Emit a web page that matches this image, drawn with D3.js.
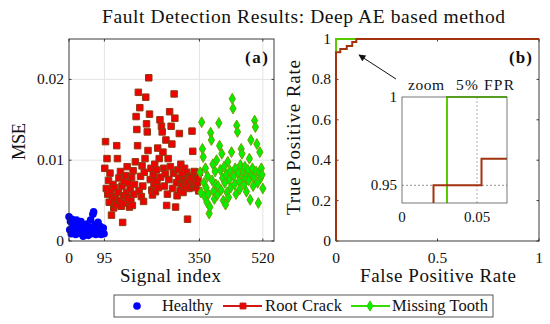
<!DOCTYPE html>
<html>
<head>
<meta charset="utf-8">
<script src="https://cdn.jsdelivr.net/npm/d3@7"></script>
<style>
  body { margin: 0; background: #fff; }
  text { font-family: "Liberation Serif", "DejaVu Serif", serif; fill: #111; }
</style>
</head>
<body>
<div id="chart"></div>
<script>
// ---- data ----
const healthyStart = 0, rootStart = 96, missingStart = 352, idxStep = 2

const healthyMse = [
  0.0030, 0.0014, 0.0024, 0.0009, 0.0027, 0.0017, 0.0011, 0.0021,
  0.0013, 0.0008, 0.0026, 0.0019, 0.0010, 0.0015, 0.0022, 0.0012,
  0.0024, 0.0009, 0.0016, 0.0006, 0.0019, 0.0013, 0.0010, 0.0015,
  0.0021, 0.0011, 0.0007, 0.0017, 0.0013, 0.0026, 0.0009, 0.0014,
  0.0033, 0.0036, 0.0012, 0.0020, 0.0008, 0.0016, 0.0011, 0.0023,
  0.0010, 0.0015, 0.0018, 0.0008, 0.0013, 0.0011, 0.0016, 0.0009]

const rootMse = [
  0.0090, 0.0123, 0.0065, 0.0102, 0.0058, 0.0075, 0.0048, 0.0084,
  0.0062, 0.0032, 0.0055, 0.0070, 0.0041, 0.0066, 0.0052, 0.0045,
  0.0118, 0.0102, 0.0060, 0.0078, 0.0050, 0.0086, 0.0043, 0.0068,
  0.0023, 0.0056, 0.0074, 0.0047, 0.0081, 0.0060, 0.0092, 0.0053,
  0.0072, 0.0042, 0.0064, 0.0050, 0.0079, 0.0044, 0.0087, 0.0058,
  0.0070, 0.0098, 0.0154, 0.0138, 0.0118, 0.0184, 0.0062, 0.0165,
  0.0080, 0.0055, 0.0093, 0.0068, 0.0049, 0.0085, 0.0102, 0.0178,
  0.0145, 0.0135, 0.0112, 0.0202, 0.0157, 0.0076, 0.0090, 0.0063,
  0.0057, 0.0082, 0.0070, 0.0095, 0.0061, 0.0088, 0.0074, 0.0115,
  0.0066, 0.0102, 0.0150, 0.0079, 0.0142, 0.0135, 0.0110, 0.0090,
  0.0068, 0.0083, 0.0125, 0.0044, 0.0058, 0.0102, 0.0076, 0.0160,
  0.0092, 0.0142, 0.0120, 0.0065, 0.0084, 0.0182, 0.0152, 0.0042,
  0.0072, 0.0056, 0.0088, 0.0078, 0.0133, 0.0062, 0.0095, 0.0070,
  0.0083, 0.0060, 0.0076, 0.0090, 0.0067, 0.0072, 0.0085, 0.0027,
  0.0074, 0.0065, 0.0080, 0.0068, 0.0078, 0.0136, 0.0111, 0.0070,
  0.0086, 0.0075, 0.0066, 0.0081, 0.0072, 0.0078, 0.0062, 0.0085]

const missingMse = [
  0.0085, 0.0060, 0.0147, 0.0114, 0.0104, 0.0072, 0.0055, 0.0090,
  0.0066, 0.0048, 0.0080, 0.0058, 0.0034, 0.0042, 0.0134, 0.0125,
  0.0075, 0.0095, 0.0062, 0.0052, 0.0086, 0.0070, 0.0100, 0.0057,
  0.0068, 0.0146, 0.0118, 0.0088, 0.0063, 0.0108, 0.0078, 0.0050,
  0.0092, 0.0072, 0.0045, 0.0082, 0.0060, 0.0098, 0.0054, 0.0076,
  0.0087, 0.0066, 0.0110, 0.0176, 0.0164, 0.0080, 0.0070, 0.0090,
  0.0058, 0.0143, 0.0135, 0.0084, 0.0074, 0.0064, 0.0094, 0.0114,
  0.0108, 0.0080, 0.0086, 0.0070, 0.0092, 0.0078, 0.0061, 0.0083,
  0.0088, 0.0075, 0.0102, 0.0051, 0.0125, 0.0082, 0.0090, 0.0068,
  0.0079, 0.0149, 0.0141, 0.0086, 0.0120, 0.0072, 0.0047, 0.0084,
  0.0110, 0.0078, 0.0090, 0.0082, 0.0065]

const signalTicks = [0, 95, 350, 520]
const mseTicks = [0, 0.01, 0.02]

// ROC curves [FPR, TPR]
const rocRoot = [[0, 0], [0, 0.935], [0.021, 0.935], [0.021, 0.95], [0.053, 0.95], [0.053, 0.965],
  [0.08, 0.965], [0.08, 0.985], [0.1, 0.985], [0.1, 1], [1, 1]]
const rocMissingMain = [[0, 0], [0, 1], [1, 1]]
const rocMissingZoom = [[0.03, 0.9], [0.03, 1], [1, 1]]
const rocTicksX = [0, 0.5, 1]
const rocTicksY = [0, 0.2, 0.4, 0.6, 0.8, 1]
const zoomTicksX = [0, 0.05]
const zoomTicksY = [0.95, 1]

const legendNames = ["Healthy", "Root Crack", "Missing Tooth"]

// ---- layout ----
const width = 550, height = 324
const boxA = {x0: 69, x1: 274, y0: 39, y1: 241}
const boxB = {x0: 336, x1: 539, y0: 39, y1: 241}
const boxZ = {x0: 402, x1: 507, y0: 97, y1: 203}

const blue = "#0000ff", redFace = "#f00000", redEdge = "#8e3a10",
  greenFace = "#00f000", greenEdge = "#6fa000",
  rocRed = "#a3330f", rocGreen = "#58cc00", axisCol = "#262626"

const svg = d3.select("#chart").append("svg")
  .attr("width", width).attr("height", height)
  .attr("viewBox", "0 0 " + width + " " + height)

// text helper: serif text stretched to the width measured on the figure
function label(g, x, y, str, size, w, anchor) {
  const t = g.append("text").attr("x", x).attr("y", y).attr("font-size", size)
    .attr("text-anchor", anchor || "start").text(str)
  if (w) t.attr("textLength", w).attr("lengthAdjust", "spacing")
  return t
}

label(svg, 102, 23, "Fault Detection Results: Deep AE based method", 19.5, 403)

// ---- (a) scatter ----
const xA = d3.scaleLinear().domain([0, 550]).range([boxA.x0, boxA.x1])
const yA = d3.scaleLinear().domain([0, 0.025]).range([boxA.y1, boxA.y0])

const gA = svg.append("g")
gA.append("rect").attr("x", boxA.x0).attr("y", boxA.y0)
  .attr("width", boxA.x1 - boxA.x0).attr("height", boxA.y1 - boxA.y0).attr("fill", "#fff")

// grid
gA.selectAll(".gx").data(signalTicks.slice(1)).join("line").attr("class", "gx")
  .attr("x1", d => xA(d)).attr("x2", d => xA(d)).attr("y1", boxA.y0).attr("y2", boxA.y1)
  .attr("stroke", "#e4e4e4").attr("stroke-width", 1)
gA.selectAll(".gy").data(mseTicks.slice(1)).join("line").attr("class", "gy")
  .attr("y1", d => yA(d)).attr("y2", d => yA(d)).attr("x1", boxA.x0).attr("x2", boxA.x1)
  .attr("stroke", "#e4e4e4").attr("stroke-width", 1)

const toPts = (arr, start) => arr.map((v, i) => [start + i * idxStep, v])

gA.append("g").selectAll("circle").data(toPts(healthyMse, healthyStart)).join("circle")
  .attr("cx", d => xA(d[0])).attr("cy", d => yA(d[1])).attr("r", 3.8)
  .attr("fill", blue)

gA.append("g").selectAll("path").data(toPts(rootMse, rootStart)).join("path")
  .attr("d", d3.symbol(d3.symbolSquare, 42))
  .attr("transform", d => "translate(" + xA(d[0]) + "," + yA(d[1]) + ")")
  .attr("fill", redFace).attr("stroke", redEdge).attr("stroke-width", 1)

gA.append("g").selectAll("path").data(toPts(missingMse, missingStart)).join("path")
  .attr("d", d3.symbol(d3.symbolDiamond, 34))
  .attr("transform", d => "translate(" + xA(d[0]) + "," + yA(d[1]) + ")")
  .attr("fill", greenFace).attr("stroke", greenEdge).attr("stroke-width", 1)

function frame(g, b) {
  g.append("rect").attr("x", b.x0).attr("y", b.y0)
    .attr("width", b.x1 - b.x0).attr("height", b.y1 - b.y0)
    .attr("fill", "none").attr("stroke", axisCol).attr("stroke-width", 0.9)
}
function ticks(g, b, xs, ys, sx, sy, len) {
  g.selectAll(null).data(xs).join("path")
    .attr("d", d => "M" + sx(d) + "," + b.y1 + "v" + (-len) + "M" + sx(d) + "," + b.y0 + "v" + len)
    .attr("stroke", axisCol).attr("stroke-width", 0.9)
  g.selectAll(null).data(ys).join("path")
    .attr("d", d => "M" + b.x0 + "," + sy(d) + "h" + len + "M" + b.x1 + "," + sy(d) + "h" + (-len))
    .attr("stroke", axisCol).attr("stroke-width", 0.9)
}
frame(gA, boxA)
ticks(gA, boxA, signalTicks, mseTicks, xA, yA, 2.5)

gA.selectAll(".xl").data(signalTicks).join("text").attr("class", "xl")
  .attr("x", d => xA(d)).attr("y", 263).attr("text-anchor", "middle")
  .attr("font-size", 15.5).text(d => d)
gA.selectAll(".yl").data(mseTicks).join("text").attr("class", "yl")
  .attr("x", 64).attr("y", d => yA(d) + 5).attr("text-anchor", "end")
  .attr("font-size", 15.5).text(d => d === 0 ? "0" : d.toFixed(2))
label(gA, 120, 282, "Signal index", 19, 101)
label(gA, 0, 0, "MSE", 18.5, 37).attr("transform", "translate(25,160) rotate(-90)")
label(gA, 245, 63, "(a)", 17, 23).attr("font-weight", "bold")

// ---- (b) ROC ----
const xB = d3.scaleLinear().domain([0, 1]).range([boxB.x0, boxB.x1])
const yB = d3.scaleLinear().domain([0, 1]).range([boxB.y1, boxB.y0])
const gB = svg.append("g")
gB.append("rect").attr("x", boxB.x0).attr("y", boxB.y0)
  .attr("width", boxB.x1 - boxB.x0).attr("height", boxB.y1 - boxB.y0).attr("fill", "#fff")
frame(gB, boxB)
ticks(gB, boxB, rocTicksX, rocTicksY, xB, yB, 2.5)

const lineB = d3.line().x(d => xB(d[0])).y(d => yB(d[1]))
gB.append("path").attr("d", lineB(rocMissingMain)).attr("fill", "none")
  .attr("stroke", rocGreen).attr("stroke-width", 2)
gB.append("path").attr("d", lineB(rocRoot)).attr("fill", "none")
  .attr("stroke", rocRed).attr("stroke-width", 2)

gB.selectAll(".xl").data(rocTicksX).join("text").attr("class", "xl")
  .attr("x", d => xB(d)).attr("y", 263).attr("text-anchor", "middle")
  .attr("font-size", 15.5).text(d => d)
gB.selectAll(".yl").data(rocTicksY).join("text").attr("class", "yl")
  .attr("x", 331).attr("y", d => yB(d) + 5).attr("text-anchor", "end")
  .attr("font-size", 15.5).text(d => d)
label(gB, 360, 282, "False Positive Rate", 19, 156)
label(gB, 0, 0, "True Positive Rate", 19, 155).attr("transform", "translate(300,215) rotate(-90)")
label(gB, 509, 63, "(b)", 17, 23).attr("font-weight", "bold")

// arrow pointing at the step
svg.append("defs").append("marker").attr("id", "head")
  .attr("viewBox", "0 0 10 10").attr("refX", 9).attr("refY", 5)
  .attr("markerWidth", 7).attr("markerHeight", 7).attr("orient", "auto")
  .append("path").attr("d", "M0,0L10,5L0,10z").attr("fill", "#111")
gB.append("line").attr("x1", 396).attr("y1", 79).attr("x2", 359).attr("y2", 55)
  .attr("stroke", "#111").attr("stroke-width", 1).attr("marker-end", "url(#head)")
label(gB, 408, 90, "zoom", 15.5, 36)
label(gB, 456, 90, "5% FPR", 15.5, 58)

// ---- zoom inset ----
const xZ = d3.scaleLinear().domain([0, 0.07]).range([boxZ.x0, boxZ.x1])
const yZ = d3.scaleLinear().domain([0.94, 1]).range([boxZ.y1, boxZ.y0])
const gZ = gB.append("g")
gZ.append("rect").attr("x", boxZ.x0).attr("y", boxZ.y0)
  .attr("width", boxZ.x1 - boxZ.x0).attr("height", boxZ.y1 - boxZ.y0).attr("fill", "#fff")
gZ.append("clipPath").attr("id", "zclip").append("rect")
  .attr("x", boxZ.x0).attr("y", boxZ.y0 - 1)
  .attr("width", boxZ.x1 - boxZ.x0).attr("height", boxZ.y1 - boxZ.y0 + 1)
gZ.append("line").attr("x1", boxZ.x0).attr("x2", boxZ.x1).attr("y1", yZ(0.95)).attr("y2", yZ(0.95))
  .attr("stroke", "#777").attr("stroke-width", 0.8).attr("stroke-dasharray", "2,2")
gZ.append("line").attr("x1", xZ(0.05)).attr("x2", xZ(0.05)).attr("y1", boxZ.y0).attr("y2", boxZ.y1)
  .attr("stroke", "#999").attr("stroke-width", 0.8).attr("stroke-dasharray", "2,2")
const lineZ = d3.line().x(d => xZ(d[0])).y(d => yZ(d[1]))
const zLines = gZ.append("g").attr("clip-path", "url(#zclip)")
zLines.append("path").attr("d", lineZ(rocMissingZoom)).attr("fill", "none")
  .attr("stroke", rocGreen).attr("stroke-width", 2)
zLines.append("path").attr("d", lineZ(rocRoot)).attr("fill", "none")
  .attr("stroke", rocRed).attr("stroke-width", 2)
gZ.append("rect").attr("x", boxZ.x0).attr("y", boxZ.y0)
  .attr("width", boxZ.x1 - boxZ.x0).attr("height", boxZ.y1 - boxZ.y0)
  .attr("fill", "none").attr("stroke", "#555").attr("stroke-width", 0.8)
gZ.selectAll(".zx").data(zoomTicksX).join("text").attr("class", "zx")
  .attr("x", d => xZ(d)).attr("y", 222).attr("text-anchor", "middle")
  .attr("font-size", 15).text(d => d)
gZ.selectAll(".zy").data(zoomTicksY).join("text").attr("class", "zy")
  .attr("x", 397).attr("y", d => yZ(d) + 5).attr("text-anchor", "end")
  .attr("font-size", 15).text(d => d)

// ---- legend ----
const gL = svg.append("g")
gL.append("rect").attr("x", 114).attr("y", 295).attr("width", 379).attr("height", 22)
  .attr("fill", "#fff").attr("stroke", "#444").attr("stroke-width", 0.9)
gL.append("circle").attr("cx", 137).attr("cy", 306).attr("r", 3.8).attr("fill", blue)
gL.append("line").attr("x1", 223).attr("x2", 262).attr("y1", 306).attr("y2", 306)
  .attr("stroke", "#d01818").attr("stroke-width", 2)
gL.append("path").attr("d", d3.symbol(d3.symbolSquare, 34)).attr("transform", "translate(243,306)")
  .attr("fill", redFace).attr("stroke", "#c01010").attr("stroke-width", 1)
gL.append("line").attr("x1", 351).attr("x2", 390).attr("y1", 306).attr("y2", 306)
  .attr("stroke", "#33dd00").attr("stroke-width", 2)
gL.append("path").attr("d", d3.symbol(d3.symbolDiamond, 30)).attr("transform", "translate(370,306)")
  .attr("fill", greenFace).attr("stroke", "#33cc00").attr("stroke-width", 1)
const legendX = [162, 265, 392], legendW = [51, 77, 96]
legendNames.forEach((d, i) => label(gL, legendX[i], 311, d, 16.5, legendW[i]))
</script>
</body>
</html>
